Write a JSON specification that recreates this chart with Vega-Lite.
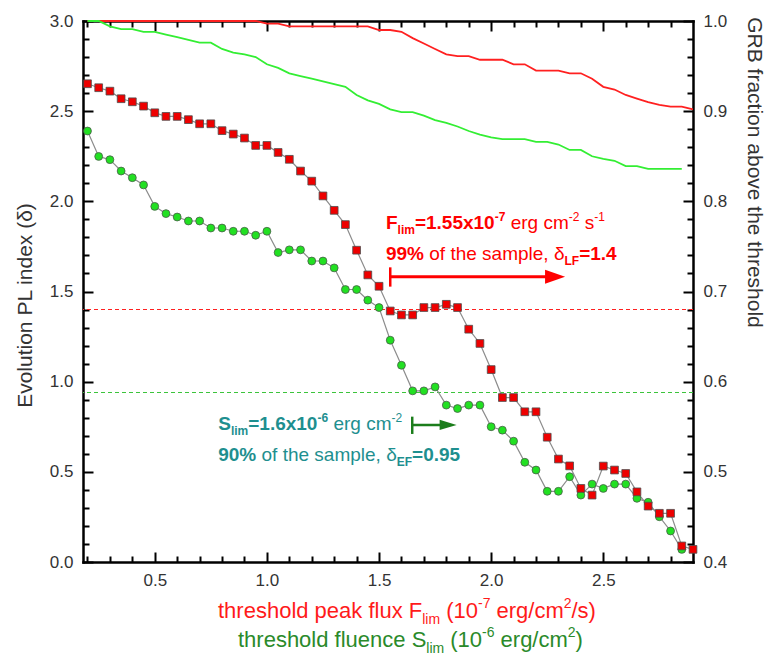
{
  "$schema": "https://vega.github.io/schema/vega-lite/v6.json",
  "width": 610,
  "height": 541,
  "autosize": {"type": "none"},
  "padding": {"left": 83, "top": 21, "right": 74, "bottom": 100},
  "background": "white",
  "config": {
    "font": "Liberation Sans",
    "view": {"stroke": null},
    "axis": {
      "labelFont": "Liberation Sans", "labelFontSize": 17, "labelColor": "#333333",
      "titleFont": "Liberation Sans", "titleFontSize": 21, "titleFontWeight": "normal", "titleColor": "#333333",
      "domainColor": "#000000", "domainWidth": 2.5, "domainCap": "square",
      "tickColor": "#000000", "tickWidth": 2, "grid": false,
      "labelFlush": false, "labelOverlap": false
    }
  },
  "datasets": {
    "flux": [
      {"thr":0.20,"delta":2.652,"frac":1.000},{"thr":0.25,"delta":2.630,"frac":1.000},{"thr":0.30,"delta":2.611,"frac":1.000},
      {"thr":0.35,"delta":2.569,"frac":1.000},{"thr":0.40,"delta":2.552,"frac":1.000},{"thr":0.45,"delta":2.528,"frac":1.000},
      {"thr":0.50,"delta":2.491,"frac":1.000},{"thr":0.55,"delta":2.471,"frac":1.000},{"thr":0.60,"delta":2.471,"frac":1.000},
      {"thr":0.65,"delta":2.453,"frac":1.000},{"thr":0.70,"delta":2.430,"frac":1.000},{"thr":0.75,"delta":2.430,"frac":1.000},
      {"thr":0.80,"delta":2.392,"frac":1.000},{"thr":0.85,"delta":2.373,"frac":1.000},{"thr":0.90,"delta":2.351,"frac":1.000},
      {"thr":0.95,"delta":2.310,"frac":1.000},{"thr":1.00,"delta":2.310,"frac":0.997},{"thr":1.05,"delta":2.271,"frac":0.997},
      {"thr":1.10,"delta":2.233,"frac":0.994},{"thr":1.15,"delta":2.168,"frac":0.994},{"thr":1.20,"delta":2.112,"frac":0.994},
      {"thr":1.25,"delta":2.030,"frac":0.994},{"thr":1.30,"delta":1.950,"frac":0.994},{"thr":1.35,"delta":1.871,"frac":0.994},
      {"thr":1.40,"delta":1.729,"frac":0.994},{"thr":1.45,"delta":1.592,"frac":0.994},{"thr":1.50,"delta":1.529,"frac":0.990},
      {"thr":1.55,"delta":1.392,"frac":0.990},{"thr":1.60,"delta":1.370,"frac":0.988},{"thr":1.65,"delta":1.370,"frac":0.981},
      {"thr":1.70,"delta":1.411,"frac":0.975},{"thr":1.75,"delta":1.411,"frac":0.969},{"thr":1.80,"delta":1.429,"frac":0.963},
      {"thr":1.85,"delta":1.411,"frac":0.961},{"thr":1.90,"delta":1.291,"frac":0.961},{"thr":1.95,"delta":1.212,"frac":0.957},
      {"thr":2.00,"delta":1.067,"frac":0.957},{"thr":2.05,"delta":0.912,"frac":0.957},{"thr":2.10,"delta":0.912,"frac":0.952},
      {"thr":2.15,"delta":0.833,"frac":0.952},{"thr":2.20,"delta":0.833,"frac":0.945},{"thr":2.25,"delta":0.692,"frac":0.945},
      {"thr":2.30,"delta":0.571,"frac":0.945},{"thr":2.35,"delta":0.533,"frac":0.942},{"thr":2.40,"delta":0.408,"frac":0.942},
      {"thr":2.45,"delta":0.371,"frac":0.936},{"thr":2.50,"delta":0.532,"frac":0.927},{"thr":2.55,"delta":0.510,"frac":0.924},
      {"thr":2.60,"delta":0.491,"frac":0.918},{"thr":2.65,"delta":0.389,"frac":0.914},{"thr":2.70,"delta":0.310,"frac":0.910},
      {"thr":2.75,"delta":0.270,"frac":0.907},{"thr":2.80,"delta":0.270,"frac":0.905},{"thr":2.85,"delta":0.089,"frac":0.905},
      {"thr":2.90,"delta":0.070,"frac":0.902}
    ],
    "fluence": [
      {"thr":0.20,"delta":2.390,"frac":1.000},{"thr":0.25,"delta":2.249,"frac":1.000},{"thr":0.30,"delta":2.231,"frac":0.994},
      {"thr":0.35,"delta":2.168,"frac":0.991},{"thr":0.40,"delta":2.131,"frac":0.991},{"thr":0.45,"delta":2.091,"frac":0.988},
      {"thr":0.50,"delta":1.972,"frac":0.988},{"thr":0.55,"delta":1.932,"frac":0.985},{"thr":0.60,"delta":1.913,"frac":0.982},
      {"thr":0.65,"delta":1.891,"frac":0.979},{"thr":0.70,"delta":1.891,"frac":0.976},{"thr":0.75,"delta":1.852,"frac":0.976},
      {"thr":0.80,"delta":1.852,"frac":0.969},{"thr":0.85,"delta":1.834,"frac":0.965},{"thr":0.90,"delta":1.834,"frac":0.963},
      {"thr":0.95,"delta":1.812,"frac":0.960},{"thr":1.00,"delta":1.834,"frac":0.952},{"thr":1.05,"delta":1.716,"frac":0.948},
      {"thr":1.10,"delta":1.731,"frac":0.942},{"thr":1.15,"delta":1.731,"frac":0.939},{"thr":1.20,"delta":1.669,"frac":0.936},
      {"thr":1.25,"delta":1.669,"frac":0.933},{"thr":1.30,"delta":1.631,"frac":0.930},{"thr":1.35,"delta":1.511,"frac":0.927},
      {"thr":1.40,"delta":1.511,"frac":0.918},{"thr":1.45,"delta":1.452,"frac":0.912},{"thr":1.50,"delta":1.411,"frac":0.908},
      {"thr":1.55,"delta":1.230,"frac":0.902},{"thr":1.60,"delta":1.091,"frac":0.899},{"thr":1.65,"delta":0.949,"frac":0.899},
      {"thr":1.70,"delta":0.949,"frac":0.895},{"thr":1.75,"delta":0.971,"frac":0.890},{"thr":1.80,"delta":0.870,"frac":0.887},
      {"thr":1.85,"delta":0.851,"frac":0.883},{"thr":1.90,"delta":0.870,"frac":0.878},{"thr":1.95,"delta":0.870,"frac":0.874},
      {"thr":2.00,"delta":0.750,"frac":0.871},{"thr":2.05,"delta":0.731,"frac":0.869},{"thr":2.10,"delta":0.670,"frac":0.869},
      {"thr":2.15,"delta":0.553,"frac":0.869},{"thr":2.20,"delta":0.510,"frac":0.866},{"thr":2.25,"delta":0.392,"frac":0.866},
      {"thr":2.30,"delta":0.392,"frac":0.863},{"thr":2.35,"delta":0.473,"frac":0.857},{"thr":2.40,"delta":0.371,"frac":0.857},
      {"thr":2.45,"delta":0.432,"frac":0.850},{"thr":2.50,"delta":0.408,"frac":0.847},{"thr":2.55,"delta":0.432,"frac":0.845},
      {"thr":2.60,"delta":0.432,"frac":0.839},{"thr":2.65,"delta":0.353,"frac":0.839},{"thr":2.70,"delta":0.331,"frac":0.836},
      {"thr":2.75,"delta":0.251,"frac":0.836},{"thr":2.80,"delta":0.172,"frac":0.836},{"thr":2.85,"delta":0.070,"frac":0.836}
    ]
  },
  "resolve": {"scale": {"y": "independent"}, "axis": {"x": "independent", "y": "independent"}},
  "layer": [
    {
      "data": {"values": [{}]},
      "layer": [
        {"mark": {"type": "rule", "color": "#ff2020", "strokeWidth": 1.1, "strokeDash": [4, 3], "opacity": 1},
         "encoding": {"y": {"datum": 1.40, "type": "quantitative", "scale": {"domain": [0, 3], "nice": false, "zero": false}, "axis": null}}},
        {"mark": {"type": "rule", "color": "#3cc43c", "strokeWidth": 1.1, "strokeDash": [4, 3], "opacity": 1},
         "encoding": {"y": {"datum": 0.94, "type": "quantitative", "scale": {"domain": [0, 3], "nice": false, "zero": false}, "axis": null}}}
      ]
    },
    {
      "data": {"name": "flux"},
      "mark": {"type": "line", "color": "#ff2020", "strokeWidth": 1.8},
      "encoding": {
        "x": {"field": "thr", "type": "quantitative", "scale": {"domain": [0.18, 2.9], "nice": false, "zero": false},
              "axis": {"orient": "top", "values": [0.5, 1.0, 1.5, 2.0, 2.5], "tickSize": -10, "labels": false, "domain": true, "title": null}},
        "y": {"field": "frac", "type": "quantitative", "scale": {"domain": [0.4, 1.0], "nice": false, "zero": false},
              "axis": {"orient": "right", "values": [0.4, 0.5, 0.6, 0.7, 0.8, 0.9, 1.0], "format": ".1f", "tickSize": -10, "labelPadding": 20,
                       "title": "GRB fraction above the threshold", "titlePadding": 17, "titleY": 151}}
      }
    },
    {
      "data": {"name": "fluence"},
      "mark": {"type": "line", "color": "#33ee33", "strokeWidth": 1.8},
      "encoding": {
        "x": {"field": "thr", "type": "quantitative", "scale": {"domain": [0.18, 2.9], "nice": false, "zero": false},
              "axis": {"orient": "top", "values": [0.2, 0.3, 0.4, 0.6, 0.7, 0.8, 0.9, 1.1, 1.2, 1.3, 1.4, 1.6, 1.7, 1.8, 1.9, 2.1, 2.2, 2.3, 2.4, 2.6, 2.7, 2.8],
                       "tickSize": -6, "labels": false, "domain": false, "title": null}},
        "y": {"field": "frac", "type": "quantitative", "scale": {"domain": [0.4, 1.0], "nice": false, "zero": false},
              "axis": {"orient": "right", "values": [0.42, 0.44, 0.46, 0.48, 0.52, 0.54, 0.56, 0.58, 0.62, 0.64, 0.66, 0.68, 0.72, 0.74, 0.76, 0.78, 0.82, 0.84, 0.86, 0.88, 0.92, 0.94, 0.96, 0.98],
                       "tickSize": -6, "labels": false, "domain": false, "title": null}}
      }
    },
    {
      "data": {"name": "flux"},
      "mark": {"type": "line", "color": "#8c8c8c", "strokeWidth": 1.2},
      "encoding": {
        "x": {"field": "thr", "type": "quantitative", "scale": {"domain": [0.18, 2.9], "nice": false, "zero": false},
              "axis": {"orient": "bottom", "values": [0.5, 1.0, 1.5, 2.0, 2.5], "format": ".1f", "tickSize": -10, "labelPadding": 20, "domain": true, "title": null}},
        "y": {"field": "delta", "type": "quantitative", "scale": {"domain": [0, 3], "nice": false, "zero": false},
              "axis": {"orient": "left", "values": [0, 0.5, 1.0, 1.5, 2.0, 2.5, 3.0], "format": ".1f", "tickSize": -10, "labelPadding": 20,
                       "title": "Evolution PL index (δ)", "titlePadding": 14, "titleY": 284}}
      }
    },
    {
      "data": {"name": "fluence"},
      "mark": {"type": "line", "color": "#8c8c8c", "strokeWidth": 1.2},
      "encoding": {
        "x": {"field": "thr", "type": "quantitative", "scale": {"domain": [0.18, 2.9], "nice": false, "zero": false},
              "axis": {"orient": "bottom", "values": [0.2, 0.3, 0.4, 0.6, 0.7, 0.8, 0.9, 1.1, 1.2, 1.3, 1.4, 1.6, 1.7, 1.8, 1.9, 2.1, 2.2, 2.3, 2.4, 2.6, 2.7, 2.8],
                       "tickSize": -6, "labels": false, "domain": false, "title": null}},
        "y": {"field": "delta", "type": "quantitative", "scale": {"domain": [0, 3], "nice": false, "zero": false},
              "axis": {"orient": "left", "values": [0.1, 0.2, 0.3, 0.4, 0.6, 0.7, 0.8, 0.9, 1.1, 1.2, 1.3, 1.4, 1.6, 1.7, 1.8, 1.9, 2.1, 2.2, 2.3, 2.4, 2.6, 2.7, 2.8, 2.9],
                       "tickSize": -6, "labels": false, "domain": false, "title": null}}
      }
    },
    {
      "data": {"name": "fluence"},
      "mark": {"type": "circle", "size": 62, "fill": "#22e022", "stroke": "#4a5a4a", "strokeWidth": 0.8, "opacity": 1, "fillOpacity": 1},
      "encoding": {
        "x": {"field": "thr", "type": "quantitative", "scale": {"domain": [0.18, 2.9], "nice": false, "zero": false}, "axis": null},
        "y": {"field": "delta", "type": "quantitative", "scale": {"domain": [0, 3], "nice": false, "zero": false}, "axis": null}
      }
    },
    {
      "data": {"name": "flux"},
      "mark": {"type": "square", "size": 60, "fill": "#ee0000", "stroke": "#4d4d4d", "strokeWidth": 0.8, "opacity": 1, "fillOpacity": 1},
      "encoding": {
        "x": {"field": "thr", "type": "quantitative", "scale": {"domain": [0.18, 2.9], "nice": false, "zero": false}, "axis": null},
        "y": {"field": "delta", "type": "quantitative", "scale": {"domain": [0, 3], "nice": false, "zero": false}, "axis": null}
      }
    },
    {
      "data": {"values": [{}]},
      "layer": [
        {"mark": {"type": "rule", "color": "#ff0000", "strokeWidth": 3},
         "encoding": {"x": {"datum": 1.55, "type": "quantitative", "scale": {"domain": [0.18, 2.9], "nice": false, "zero": false}, "axis": null},
                      "x2": {"datum": 2.26},
                      "y": {"datum": 1.582, "type": "quantitative", "scale": {"domain": [0, 3], "nice": false, "zero": false}, "axis": null}}},
        {"mark": {"type": "rule", "color": "#ff0000", "strokeWidth": 2.5},
         "encoding": {"x": {"datum": 1.55, "type": "quantitative", "scale": {"domain": [0.18, 2.9], "nice": false, "zero": false}, "axis": null},
                      "y": {"datum": 1.527, "type": "quantitative", "scale": {"domain": [0, 3], "nice": false, "zero": false}, "axis": null},
                      "y2": {"datum": 1.634}}},
        {"mark": {"type": "point", "shape": "M-1,-0.7L1,0L-1,0.7Z", "size": 400, "filled": true, "fill": "#ff0000", "strokeWidth": 0, "opacity": 1},
         "encoding": {"x": {"datum": 2.285, "type": "quantitative", "scale": {"domain": [0.18, 2.9], "nice": false, "zero": false}, "axis": null},
                      "y": {"datum": 1.582, "type": "quantitative", "scale": {"domain": [0, 3], "nice": false, "zero": false}, "axis": null}}},
        {"mark": {"type": "rule", "color": "#1b7d1b", "strokeWidth": 2.5},
         "encoding": {"x": {"datum": 1.648, "type": "quantitative", "scale": {"domain": [0.18, 2.9], "nice": false, "zero": false}, "axis": null},
                      "x2": {"datum": 1.79},
                      "y": {"datum": 0.760, "type": "quantitative", "scale": {"domain": [0, 3], "nice": false, "zero": false}, "axis": null}}},
        {"mark": {"type": "rule", "color": "#1b7d1b", "strokeWidth": 2.5},
         "encoding": {"x": {"datum": 1.648, "type": "quantitative", "scale": {"domain": [0.18, 2.9], "nice": false, "zero": false}, "axis": null},
                      "y": {"datum": 0.710, "type": "quantitative", "scale": {"domain": [0, 3], "nice": false, "zero": false}, "axis": null},
                      "y2": {"datum": 0.806}}},
        {"mark": {"type": "point", "shape": "M-1,-0.6L1,0L-1,0.6Z", "size": 289, "filled": true, "fill": "#1b7d1b", "strokeWidth": 0, "opacity": 1},
         "encoding": {"x": {"datum": 1.808, "type": "quantitative", "scale": {"domain": [0.18, 2.9], "nice": false, "zero": false}, "axis": null},
                      "y": {"datum": 0.760, "type": "quantitative", "scale": {"domain": [0, 3], "nice": false, "zero": false}, "axis": null}}},
        {
          "encoding": {"x": {"datum": 1.531, "type": "quantitative", "scale": {"domain": [0.18, 2.9], "nice": false, "zero": false}, "axis": null},
                       "y": {"datum": 1.845, "type": "quantitative", "scale": {"domain": [0, 3], "nice": false, "zero": false}, "axis": null}},
          "layer": [
            {"mark": {"type": "text", "align": "left", "baseline": "alphabetic", "fontSize": 19, "fontWeight": "bold", "fill": "#ff0000", "dx": 0}, "encoding": {"text": {"value": "F"}}},
            {"mark": {"type": "text", "align": "left", "baseline": "alphabetic", "fontSize": 12, "fontWeight": "bold", "fill": "#ff0000", "dx": 11.6, "dy": 5}, "encoding": {"text": {"value": "lim"}}},
            {"mark": {"type": "text", "align": "left", "baseline": "alphabetic", "fontSize": 19, "fontWeight": "bold", "fill": "#ff0000", "dx": 28.9}, "encoding": {"text": {"value": "=1.55x10"}}},
            {"mark": {"type": "text", "align": "left", "baseline": "alphabetic", "fontSize": 12, "fontWeight": "bold", "fill": "#ff0000", "dx": 108.7, "dy": -8}, "encoding": {"text": {"value": "-7"}}},
            {"mark": {"type": "text", "align": "left", "baseline": "alphabetic", "fontSize": 19, "fontWeight": "normal", "fill": "#ff0000", "dx": 124.7}, "encoding": {"text": {"value": "erg cm"}}},
            {"mark": {"type": "text", "align": "left", "baseline": "alphabetic", "fontSize": 12, "fontWeight": "normal", "fill": "#ff0000", "dx": 182.7, "dy": -8}, "encoding": {"text": {"value": "-2"}}},
            {"mark": {"type": "text", "align": "left", "baseline": "alphabetic", "fontSize": 19, "fontWeight": "normal", "fill": "#ff0000", "dx": 198.7}, "encoding": {"text": {"value": "s"}}},
            {"mark": {"type": "text", "align": "left", "baseline": "alphabetic", "fontSize": 12, "fontWeight": "normal", "fill": "#ff0000", "dx": 208.2, "dy": -8}, "encoding": {"text": {"value": "-1"}}}
          ]
        },
        {
          "encoding": {"x": {"datum": 1.531, "type": "quantitative", "scale": {"domain": [0.18, 2.9], "nice": false, "zero": false}, "axis": null},
                       "y": {"datum": 1.675, "type": "quantitative", "scale": {"domain": [0, 3], "nice": false, "zero": false}, "axis": null}},
          "layer": [
            {"mark": {"type": "text", "align": "left", "baseline": "alphabetic", "fontSize": 19, "fontWeight": "bold", "fill": "#ff0000", "dx": 0}, "encoding": {"text": {"value": "99%"}}},
            {"mark": {"type": "text", "align": "left", "baseline": "alphabetic", "fontSize": 19, "fontWeight": "normal", "fill": "#ff0000", "dx": 43.3}, "encoding": {"text": {"value": "of the sample,"}}},
            {"mark": {"type": "text", "align": "left", "baseline": "alphabetic", "fontSize": 19, "fontWeight": "normal", "fill": "#ff0000", "dx": 167.9}, "encoding": {"text": {"value": "δ"}}},
            {"mark": {"type": "text", "align": "left", "baseline": "alphabetic", "fontSize": 12, "fontWeight": "bold", "fill": "#ff0000", "dx": 178.5, "dy": 5}, "encoding": {"text": {"value": "LF"}}},
            {"mark": {"type": "text", "align": "left", "baseline": "alphabetic", "fontSize": 19, "fontWeight": "bold", "fill": "#ff0000", "dx": 193.2}, "encoding": {"text": {"value": "=1.4"}}}
          ]
        },
        {
          "encoding": {"x": {"datum": 0.783, "type": "quantitative", "scale": {"domain": [0.18, 2.9], "nice": false, "zero": false}, "axis": null},
                       "y": {"datum": 0.732, "type": "quantitative", "scale": {"domain": [0, 3], "nice": false, "zero": false}, "axis": null}},
          "layer": [
            {"mark": {"type": "text", "align": "left", "baseline": "alphabetic", "fontSize": 19, "fontWeight": "bold", "fill": "#1e8f8f", "dx": 0}, "encoding": {"text": {"value": "S"}}},
            {"mark": {"type": "text", "align": "left", "baseline": "alphabetic", "fontSize": 12, "fontWeight": "bold", "fill": "#1e8f8f", "dx": 12.7, "dy": 5}, "encoding": {"text": {"value": "lim"}}},
            {"mark": {"type": "text", "align": "left", "baseline": "alphabetic", "fontSize": 19, "fontWeight": "bold", "fill": "#1e8f8f", "dx": 30.0}, "encoding": {"text": {"value": "=1.6x10"}}},
            {"mark": {"type": "text", "align": "left", "baseline": "alphabetic", "fontSize": 12, "fontWeight": "bold", "fill": "#1e8f8f", "dx": 99.2, "dy": -8}, "encoding": {"text": {"value": "-6"}}},
            {"mark": {"type": "text", "align": "left", "baseline": "alphabetic", "fontSize": 19, "fontWeight": "normal", "fill": "#1e8f8f", "dx": 115.2}, "encoding": {"text": {"value": "erg cm"}}},
            {"mark": {"type": "text", "align": "left", "baseline": "alphabetic", "fontSize": 12, "fontWeight": "normal", "fill": "#1e8f8f", "dx": 173.2, "dy": -8}, "encoding": {"text": {"value": "-2"}}}
          ]
        },
        {
          "encoding": {"x": {"datum": 0.783, "type": "quantitative", "scale": {"domain": [0.18, 2.9], "nice": false, "zero": false}, "axis": null},
                       "y": {"datum": 0.562, "type": "quantitative", "scale": {"domain": [0, 3], "nice": false, "zero": false}, "axis": null}},
          "layer": [
            {"mark": {"type": "text", "align": "left", "baseline": "alphabetic", "fontSize": 19, "fontWeight": "bold", "fill": "#1e8f8f", "dx": 0}, "encoding": {"text": {"value": "90%"}}},
            {"mark": {"type": "text", "align": "left", "baseline": "alphabetic", "fontSize": 19, "fontWeight": "normal", "fill": "#1e8f8f", "dx": 43.3}, "encoding": {"text": {"value": "of the sample,"}}},
            {"mark": {"type": "text", "align": "left", "baseline": "alphabetic", "fontSize": 19, "fontWeight": "normal", "fill": "#1e8f8f", "dx": 167.9}, "encoding": {"text": {"value": "δ"}}},
            {"mark": {"type": "text", "align": "left", "baseline": "alphabetic", "fontSize": 12, "fontWeight": "bold", "fill": "#1e8f8f", "dx": 178.5, "dy": 5}, "encoding": {"text": {"value": "EF"}}},
            {"mark": {"type": "text", "align": "left", "baseline": "alphabetic", "fontSize": 19, "fontWeight": "bold", "fill": "#1e8f8f", "dx": 193.8}, "encoding": {"text": {"value": "=0.95"}}}
          ]
        },
        {
          "encoding": {"x": {"datum": 0.782, "type": "quantitative", "scale": {"domain": [0.18, 2.9], "nice": false, "zero": false}, "axis": null},
                       "y": {"datum": -0.312, "type": "quantitative", "scale": {"domain": [0, 3], "nice": false, "zero": false}, "axis": null}},
          "layer": [
            {"mark": {"type": "text", "align": "left", "baseline": "alphabetic", "fontSize": 22, "fill": "#ff1a1a", "dx": 0}, "encoding": {"text": {"value": "threshold peak flux F"}}},
            {"mark": {"type": "text", "align": "left", "baseline": "alphabetic", "fontSize": 14, "fill": "#ff1a1a", "dx": 204.2, "dy": 6}, "encoding": {"text": {"value": "lim"}}},
            {"mark": {"type": "text", "align": "left", "baseline": "alphabetic", "fontSize": 22, "fill": "#ff1a1a", "dx": 228.2}, "encoding": {"text": {"value": "(10"}}},
            {"mark": {"type": "text", "align": "left", "baseline": "alphabetic", "fontSize": 14, "fill": "#ff1a1a", "dx": 260.0, "dy": -10}, "encoding": {"text": {"value": "-7"}}},
            {"mark": {"type": "text", "align": "left", "baseline": "alphabetic", "fontSize": 22, "fill": "#ff1a1a", "dx": 278.5}, "encoding": {"text": {"value": "erg/cm"}}},
            {"mark": {"type": "text", "align": "left", "baseline": "alphabetic", "fontSize": 14, "fill": "#ff1a1a", "dx": 345.7, "dy": -10}, "encoding": {"text": {"value": "2"}}},
            {"mark": {"type": "text", "align": "left", "baseline": "alphabetic", "fontSize": 22, "fill": "#ff1a1a", "dx": 353.5}, "encoding": {"text": {"value": "/s)"}}}
          ]
        },
        {
          "encoding": {"x": {"datum": 0.871, "type": "quantitative", "scale": {"domain": [0.18, 2.9], "nice": false, "zero": false}, "axis": null},
                       "y": {"datum": -0.469, "type": "quantitative", "scale": {"domain": [0, 3], "nice": false, "zero": false}, "axis": null}},
          "layer": [
            {"mark": {"type": "text", "align": "left", "baseline": "alphabetic", "fontSize": 22, "fill": "#2a8a2a", "dx": 0}, "encoding": {"text": {"value": "threshold fluence S"}}},
            {"mark": {"type": "text", "align": "left", "baseline": "alphabetic", "fontSize": 14, "fill": "#2a8a2a", "dx": 188.3, "dy": 6}, "encoding": {"text": {"value": "lim"}}},
            {"mark": {"type": "text", "align": "left", "baseline": "alphabetic", "fontSize": 22, "fill": "#2a8a2a", "dx": 212.3}, "encoding": {"text": {"value": "(10"}}},
            {"mark": {"type": "text", "align": "left", "baseline": "alphabetic", "fontSize": 14, "fill": "#2a8a2a", "dx": 244.1, "dy": -10}, "encoding": {"text": {"value": "-6"}}},
            {"mark": {"type": "text", "align": "left", "baseline": "alphabetic", "fontSize": 22, "fill": "#2a8a2a", "dx": 262.6}, "encoding": {"text": {"value": "erg/cm"}}},
            {"mark": {"type": "text", "align": "left", "baseline": "alphabetic", "fontSize": 14, "fill": "#2a8a2a", "dx": 329.8, "dy": -10}, "encoding": {"text": {"value": "2"}}},
            {"mark": {"type": "text", "align": "left", "baseline": "alphabetic", "fontSize": 22, "fill": "#2a8a2a", "dx": 337.6}, "encoding": {"text": {"value": ")"}}}
          ]
        }
      ]
    }
  ]
}
